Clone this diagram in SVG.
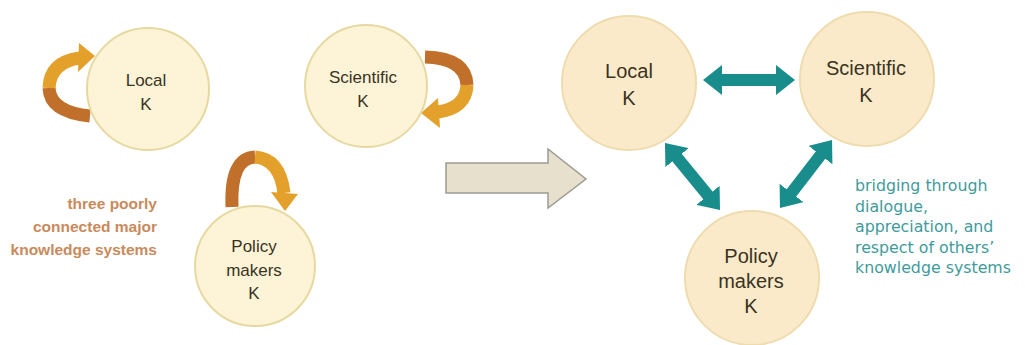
<svg xmlns="http://www.w3.org/2000/svg" width="1025" height="345" viewBox="0 0 1025 345">
<defs>
<style>
.c1{fill:#fdf4d8;stroke:#e6d9a0;stroke-width:2}
.c2{fill:#faeaca;stroke:#efdcae;stroke-width:2}
.t1{font-family:"Liberation Sans",Arial,sans-serif;font-size:17px;fill:#3a3322;text-anchor:middle}
.t2{font-family:"Liberation Sans",Arial,sans-serif;font-size:20px;fill:#3a3322;text-anchor:middle}
.brown{fill:none;stroke:#c0702a;stroke-width:13}
.orange{fill:none;stroke:#e3a02a;stroke-width:13}
.teal{fill:none;stroke:#198c8c;stroke-width:12;marker-start:url(#th);marker-end:url(#th)}
.lt{font-family:"Liberation Sans",Arial,sans-serif;font-size:15.5px;font-weight:bold;fill:#c98a5c;text-anchor:end}
.rt{font-family:"DejaVu Sans",Verdana,sans-serif;font-size:15.8px;fill:#3f9b9b}
</style>
<marker id="th" viewBox="-1 -15 19 30" refX="0" refY="0" markerWidth="19" markerHeight="30" markerUnits="userSpaceOnUse" orient="auto-start-reverse">
<path d="M-1,-15 L18,0 L-1,15 z" fill="#198c8c"/>
</marker>
</defs>
<rect width="1025" height="345" fill="#ffffff"/>

<g id="loops">
<path class="brown" d="M90 116 Q50 112 49 88"/>
<path class="orange" d="M49 88 Q50 62 80 58"/>
<polygon points="79,43 95,56 78,72" fill="#e3a02a"/>
<path class="brown" d="M425 57 Q466 58 467 85"/>
<path class="orange" d="M467 85 Q466 108 438 112"/>
<polygon points="438,98 421,113 440,128" fill="#e3a02a"/>
<path class="brown" d="M232 207 Q230 158 255 157"/>
<path class="orange" d="M255 157 Q280 159 284 193"/>
<polygon points="271,192 285,211 298,194" fill="#e3a02a"/>
</g>

<g id="local-left">
<circle class="c1" cx="148" cy="89" r="61"/>
<text class="t1" x="146" y="86">Local</text>
<text class="t1" x="146" y="110">K</text>
</g>
<g id="scientific-left">
<circle class="c1" cx="366" cy="86" r="61"/>
<text class="t1" x="363" y="83">Scientific</text>
<text class="t1" x="363" y="107">K</text>
</g>
<g id="policy-left">
<circle class="c1" cx="255" cy="266" r="60"/>
<text class="t1" x="254" y="252">Policy</text>
<text class="t1" x="254" y="276">makers</text>
<text class="t1" x="254" y="299">K</text>
</g>
<g id="left-caption">
<text class="lt" x="157" y="209">three poorly</text>
<text class="lt" x="157" y="232">connected major</text>
<text class="lt" x="157" y="255">knowledge systems</text>
</g>

<g id="big-arrow">
<polygon points="446,163 548,163 548,149 586,179 548,208 548,193 446,193" fill="#e7e0cc" stroke="#9c9a92" stroke-width="1.5"/>
</g>

<g id="connectors">
<line class="teal" x1="721" y1="80" x2="777" y2="80"/>
<line class="teal" x1="676.4" y1="156.9" x2="708.6" y2="196.1"/>
<line class="teal" x1="821.1" y1="154.3" x2="790.9" y2="193.7"/>
</g>

<g id="local-right">
<circle class="c2" cx="629" cy="83" r="67"/>
<text class="t2" x="629" y="78">Local</text>
<text class="t2" x="629" y="105">K</text>
</g>
<g id="scientific-right">
<circle class="c2" cx="867" cy="79" r="67"/>
<text class="t2" x="866" y="75">Scientific</text>
<text class="t2" x="866" y="102">K</text>
</g>
<g id="policy-right">
<circle class="c2" cx="752" cy="278" r="67"/>
<text class="t2" x="751" y="263">Policy</text>
<text class="t2" x="751" y="288">makers</text>
<text class="t2" x="751" y="313">K</text>
</g>
<g id="right-caption">
<text class="rt" x="855" y="191">bridging through</text>
<text class="rt" x="855" y="212">dialogue,</text>
<text class="rt" x="855" y="232">appreciation, and</text>
<text class="rt" x="855" y="253">respect of others’</text>
<text class="rt" x="855" y="273">knowledge systems</text>
</g>
</svg>
